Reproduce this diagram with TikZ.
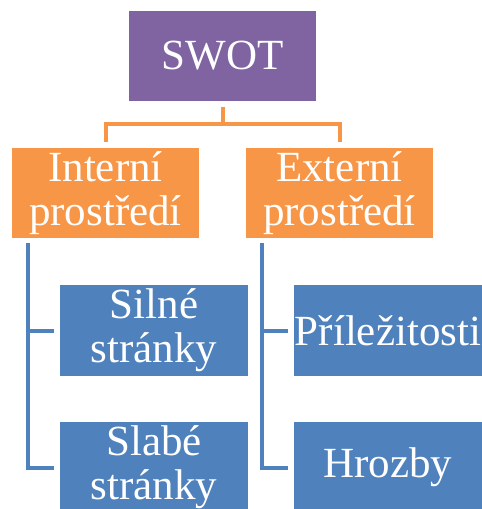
\documentclass[tikz,border=0pt]{standalone}
\usepackage{fontspec}
\setmainfont{Liberation Serif}
\newfontfamily\boxfont{Liberation Serif}
\definecolor{swotpurple}{HTML}{8064A2}
\definecolor{swotorange}{HTML}{F79646}
\definecolor{swotblue}{HTML}{4F81BD}
\tikzset{
  box/.style={inner sep=0pt, text=white, align=center, font=\boxfont\fontsize{43}{44}\selectfont},
  topbox/.style={box, fill=swotpurple, minimum width=187pt, minimum height=90pt, font=\boxfont\fontsize{43}{46}\selectfont},
  midbox/.style={box, fill=swotorange, minimum width=187pt, minimum height=90pt},
  lowbox/.style={box, fill=swotblue, minimum width=188pt, minimum height=91pt},
  oline/.style={draw=swotorange, line width=4pt},
  bline/.style={draw=swotblue, line width=4pt},
}
\begin{document}
\begin{tikzpicture}[x=1pt,y=-1pt]
\clip (0,0) rectangle (482,509);
\node[topbox] (swot) at (222.5,56) {SWOT};
\node[midbox] (int) at (105.5,193) {Interní\\prostředí};
\node[midbox] (ext) at (339.5,193) {Externí\\prostředí};
\node[lowbox] (silne) at (154,330.5) {Silné\\stránky};
\node[lowbox] (slabe) at (154,467.5) {Slabé\\stránky};
\node[lowbox] (pril) at (388,330.5) {Příležitosti};
\node[lowbox] (hroz) at (388,467.5) {Hrozby};
% orange connectors
\coordinate (j) at (222.5,124);
\draw[oline] ([yshift=-6pt]swot.south) -- (j);
\draw[oline] ([yshift=6pt]int.north) |- (j) -| ([yshift=6pt]ext.north);
% blue connectors
\coordinate (lt) at (28,243);
\coordinate (rt) at (262,243);
\draw[bline] (lt) |- ([xshift=-6pt]slabe.west);
\draw[bline] (lt |- silne.west) -- ([xshift=-6pt]silne.west);
\draw[bline] (rt) |- ([xshift=-6pt]hroz.west);
\draw[bline] (rt |- pril.west) -- ([xshift=-6pt]pril.west);
\end{tikzpicture}
\end{document}
